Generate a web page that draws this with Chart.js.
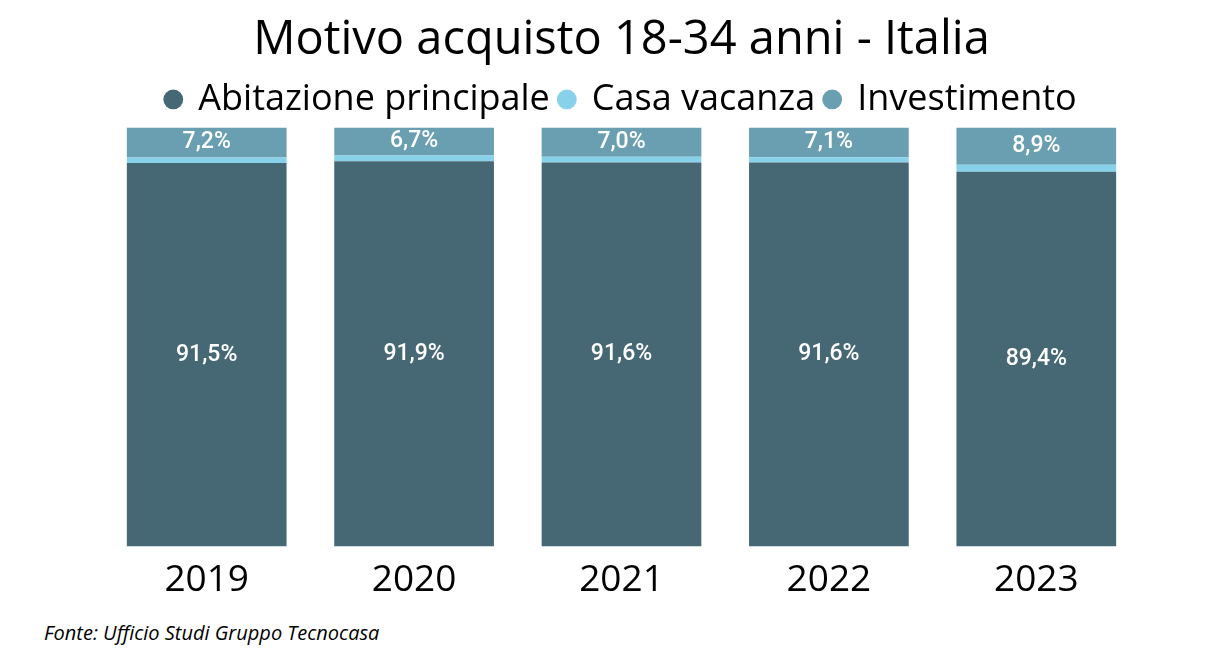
<!DOCTYPE html>
<html>
<head>
<meta charset="utf-8">
<script src="https://cdn.jsdelivr.net/npm/chart.js@4/dist/chart.umd.min.js"></script>
<style>
  html, body { margin: 0; padding: 0; background: #fff; }
  #wrap { position: relative; width: 1214px; height: 656px; }
  #fonte { position: absolute; left: 44px; top: 619px; font-family: "Open Sans", sans-serif; font-style: italic; font-size: 20px; color: #000; }
</style>
</head>
<body>
<div id="wrap">
  <canvas id="chart" width="1214" height="607"></canvas>
  <div id="fonte">Fonte: Ufficio Studi Gruppo Tecnocasa</div>
</div>
<script>
// data
const years = ['2019', '2020', '2021', '2022', '2023'];
const abitazione = [91.5, 91.9, 91.6, 91.6, 89.4];
const casaVacanza = [1.3, 1.4, 1.4, 1.3, 1.7];
const investimento = [7.2, 6.7, 7.0, 7.1, 8.9];

// draws the % values inside the segments (no datalabels plugin here)
const segLabels = {
  id: 'segLabels',
  afterDatasetsDraw(chart) {
    const ctx = chart.ctx;
    ctx.save();
    ctx.fillStyle = '#ffffff';
    ctx.font = '500 23px Roboto';
    ctx.textAlign = 'center';
    ctx.textBaseline = 'middle';
    chart.data.datasets.forEach((ds, i) => {
      if (!ds.showLabel) return;
      chart.getDatasetMeta(i).data.forEach((bar, j) => {
        const p = bar.getProps(['x', 'y', 'base'], true);
        const txt = ds.data[j].toFixed(1).replace('.', ',') + '%';
        ctx.fillText(txt, p.x, (p.y + p.base) / 2);
      });
    });
    ctx.restore();
  }
};

const ctx = document.getElementById('chart').getContext('2d');
const chart = new Chart(ctx, {
  type: 'bar',
  data: {
    labels: years,
    datasets: [
      { label: 'Abitazione principale', data: abitazione, backgroundColor: '#466874', showLabel: true },
      { label: 'Casa vacanza', data: casaVacanza, backgroundColor: '#87d1ea', showLabel: false },
      { label: 'Investimento', data: investimento, backgroundColor: '#6a9fb1', showLabel: true }
    ]
  },
  plugins: [segLabels],
  options: {
    responsive: false,
    animation: false,
    datasets: { bar: { categoryPercentage: 0.77, barPercentage: 1 } },
    layout: { padding: { left: 103, right: 74, top: 12, bottom: 0 } },
    plugins: {
      title: {
        display: true,
        text: 'Motivo acquisto 18-34 anni - Italia',
        color: '#000',
        font: { family: 'Open Sans', size: 47, weight: 'normal' },
        padding: { top: 0, bottom: 3 }
      },
      legend: {
        position: 'top',
        labels: {
          color: '#000',
          font: { family: 'Open Sans', size: 36 },
          usePointStyle: true,
          pointStyle: 'circle',
          boxWidth: 14,
          boxHeight: 14,
          padding: 10
        }
      },
      tooltip: { enabled: false }
    },
    scales: {
      x: {
        stacked: true,
        grid: { display: false },
        border: { display: false },
        ticks: { color: '#000', font: { family: 'Open Sans', size: 37 }, padding: 4 }
      },
      y: {
        stacked: true,
        display: false,
        min: 0,
        max: 100
      }
    }
  }
});
</script>
</body>
</html>
